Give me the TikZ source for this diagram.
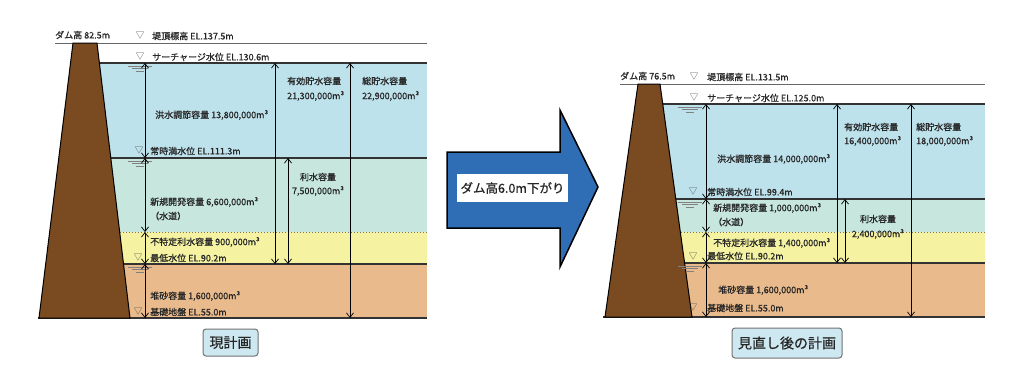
\documentclass[tikz,border=0pt]{standalone}
\usepackage{fontspec}
\newfontfamily\cjk[FakeBold=0.6]{Noto Sans CJK JP}
\newfontfamily\cjkplain{Noto Sans CJK JP}
\usetikzlibrary{arrows.meta}
\tikzset{
  lbl/.style={font=\cjk\fontsize{9}{10}\selectfont, text=black!85, inner sep=0pt, anchor=west},
  clbl/.style={lbl, anchor=center},
  tri/.style={font=\cjkplain\fontsize{8.5}{9}\selectfont, text=black!75, inner sep=0pt},
  dim/.style={{Straight Barb[length=4.5pt,width=7pt]}-{Straight Barb[length=4.5pt,width=7pt]}, line width=0.7pt, black},
  lvl/.style={line width=1.5pt, draw=black!80},
  toplvl/.style={line width=0.9pt, draw=black!60},
  dotlvl/.style={line width=1pt, draw=black!55, dotted},
  wsl/.style={line width=0.6pt, draw=black!50},
  dam/.style={fill=damc, draw=black, line width=1pt},
  capbox/.style={draw=black!55, fill=capc, rounded corners=3pt, line width=1pt, font=\cjk\fontsize{14}{15}\selectfont, text=black!85, inner sep=0pt},
  bigarrow/.style={fill=arrc, draw=black, line width=1.5pt},
}
\definecolor{bluec}{HTML}{BEE2EC}
\definecolor{greenc}{HTML}{C6E6DE}
\definecolor{yelc}{HTML}{F5F3A2}
\definecolor{tanc}{HTML}{E9BA8C}
\definecolor{damc}{HTML}{7A4A20}
\definecolor{capc}{HTML}{CDE8F0}
\definecolor{arrc}{HTML}{2F6DB5}
\newcommand\vdimline[4]{\coordinate (#4t) at (#1,#2); \coordinate (#4b) at (#1,#3); \draw[dim] (#4t) -- (#4b);}
\newcommand\wsym[2]{\draw[wsl] ({#1-12},{#2+3}) -- ({#1+12},{#2+3}) ({#1-8},{#2+5.5}) -- ({#1+8},{#2+5.5}) ({#1-4},{#2+8}) -- ({#1+4},{#2+8});}
\begin{document}
\begin{tikzpicture}[x=1pt,y=-1pt]
\fill[white] (0,0) rectangle (1009,372);
\useasboundingbox (0,0) rectangle (1009,372);
% ---------------- left diagram ----------------
\fill[bluec] (95,63) rectangle (427,158);
\fill[greenc] (95,158) rectangle (427,232);
\fill[yelc] (95,232) rectangle (427,264);
\fill[tanc] (95,264) rectangle (427,318);
\draw[toplvl] (55,43) -- (427,43);
\draw[lvl] (99,63) -- (427,63);
\draw[lvl] (111,158) -- (427,158);
\draw[dotlvl] (120,232) -- (427,232);
\draw[lvl] (123,264) -- (427,264);
\draw[lvl] (38,318) -- (427,318);
\draw[dam] (73,43) -- (97,43) -- (130,318) -- (39,318) -- cycle;
\wsym{140}{63}\wsym{140}{158}\wsym{140}{264}
\vdimline{145}{63}{158}{la}
\vdimline{145}{158}{232}{lb}
\vdimline{145}{232}{264}{lc}
\vdimline{145}{264}{318}{ld}
\vdimline{275}{63}{264}{le}
\vdimline{288}{158}{264}{lf}
\vdimline{350}{63}{318}{lg}
\node[lbl] (lh) at (55,35) {ダム高 82.5m};
\node[tri] (lt1) at (140,36) {▽};
\node[lbl] (lt1x) at (152,36) {堤頂標高 EL.137.5m};
\node[tri] (lt2) at (140,57) {▽};
\node[lbl] (lt2x) at (152,57) {サーチャージ水位 EL.130.6m};
\node[lbl] (lfc) at (155,115) {洪水調節容量 13,800,000m³};
\node[lbl] (lef1) at (287,81) {有効貯水容量};
\node[lbl] (lef2) at (287,96) {21,300,000m³};
\node[lbl] (lto1) at (362,81) {総貯水容量};
\node[lbl] (lto2) at (362,96) {22,900,000m³};
\node[tri] (lt3) at (139,151) {▽};
\node[lbl] (lt3x) at (150,151) {常時満水位 EL.111.3m};
\node[lbl] (lnw1) at (150,202) {新規開発容量 6,600,000m³};
\node[lbl] (lnw2) at (150,216) {（水道）};
\node[clbl] (lri1) at (318,177) {利水容量};
\node[clbl] (lri2) at (318,191) {7,500,000m³};
\node[lbl] (lft) at (150,242) {不特定利水容量 900,000m³};
\node[tri] (lt4) at (138,258) {▽};
\node[lbl] (lt4x) at (150,258) {最低水位 EL.90.2m};
\node[lbl] (lsd) at (150,296) {堆砂容量 1,600,000m³};
\node[tri] (lt5) at (138,312) {▽};
\node[lbl] (lt5x) at (150,312) {基礎地盤 EL.55.0m};
\node[capbox, minimum width=55pt, minimum height=27pt] (lcap) at (230.5,342.5) {現計画};
% ---------------- right diagram ----------------
\fill[bluec] (655,104) rectangle (985,199);
\fill[greenc] (655,199) rectangle (985,232);
\fill[yelc] (655,232) rectangle (985,263);
\fill[tanc] (655,263) rectangle (985,317);
\draw[toplvl] (620,84) -- (985,84);
\draw[lvl] (663,104) -- (985,104);
\draw[lvl] (676,199) -- (985,199);
\draw[dotlvl] (681,232) -- (985,232);
\draw[lvl] (685,263) -- (985,263);
\draw[lvl] (603,317) -- (985,317);
\draw[dam] (638,84) -- (660,84) -- (692,317) -- (605,317) -- cycle;
\wsym{690}{104}\wsym{690}{199}\wsym{690}{263}
\vdimline{706}{104}{199}{ra}
\vdimline{706}{199}{232}{rb}
\vdimline{706}{232}{263}{rc}
\vdimline{706}{263}{317}{rd}
\vdimline{837}{104}{263}{re}
\vdimline{845}{199}{263}{rf}
\vdimline{911}{104}{317}{rg}
\node[lbl] (rh) at (620,76) {ダム高 76.5m};
\node[tri] (rt1) at (694,77) {▽};
\node[lbl] (rt1x) at (707,77) {堤頂標高 EL.131.5m};
\node[tri] (rt2) at (694,98) {▽};
\node[lbl] (rt2x) at (707,98) {サーチャージ水位 EL.125.0m};
\node[lbl] (rfc) at (717,159) {洪水調節容量 14,000,000m³};
\node[lbl] (ref1) at (844,127) {有効貯水容量};
\node[lbl] (ref2) at (844,141) {16,400,000m³};
\node[lbl] (rto1) at (916,127) {総貯水容量};
\node[lbl] (rto2) at (916,141) {18,000,000m³};
\node[tri] (rt3) at (693,192) {▽};
\node[lbl] (rt3x) at (707,192) {常時満水位 EL.99.4m};
\node[lbl] (rnw1) at (713,208) {新規開発容量 1,000,000m³};
\node[lbl] (rnw2) at (713,222) {（水道）};
\node[clbl] (rri1) at (878,219) {利水容量};
\node[clbl] (rri2) at (878,234) {2,400,000m³};
\node[lbl] (rft) at (713,243) {不特定利水容量 1,400,000m³};
\node[tri] (rt4) at (693,257) {▽};
\node[lbl] (rt4x) at (707,256) {最低水位 EL.90.2m};
\node[lbl] (rsd) at (718,290) {堆砂容量 1,600,000m³};
\node[tri] (rt5) at (693,308) {▽};
\node[lbl] (rt5x) at (707,308) {基礎地盤 EL.55.0m};
\node[capbox, minimum width=110pt, minimum height=30pt] (rcap) at (787,343) {見直し後の計画};
% ---------------- center arrow ----------------
\draw[bigarrow] (447,152) -- (560,152) -- (560,110) -- (598,187) -- (560,267) -- (560,228) -- (447,228) -- cycle;
\node[fill=white, minimum width=111pt, minimum height=28pt, inner sep=0pt, font=\cjk\fontsize{12.5}{13}\selectfont, text=black!85] (amsg) at (512.5,188) {ダム高6.0m下がり};
\end{tikzpicture}
\end{document}
